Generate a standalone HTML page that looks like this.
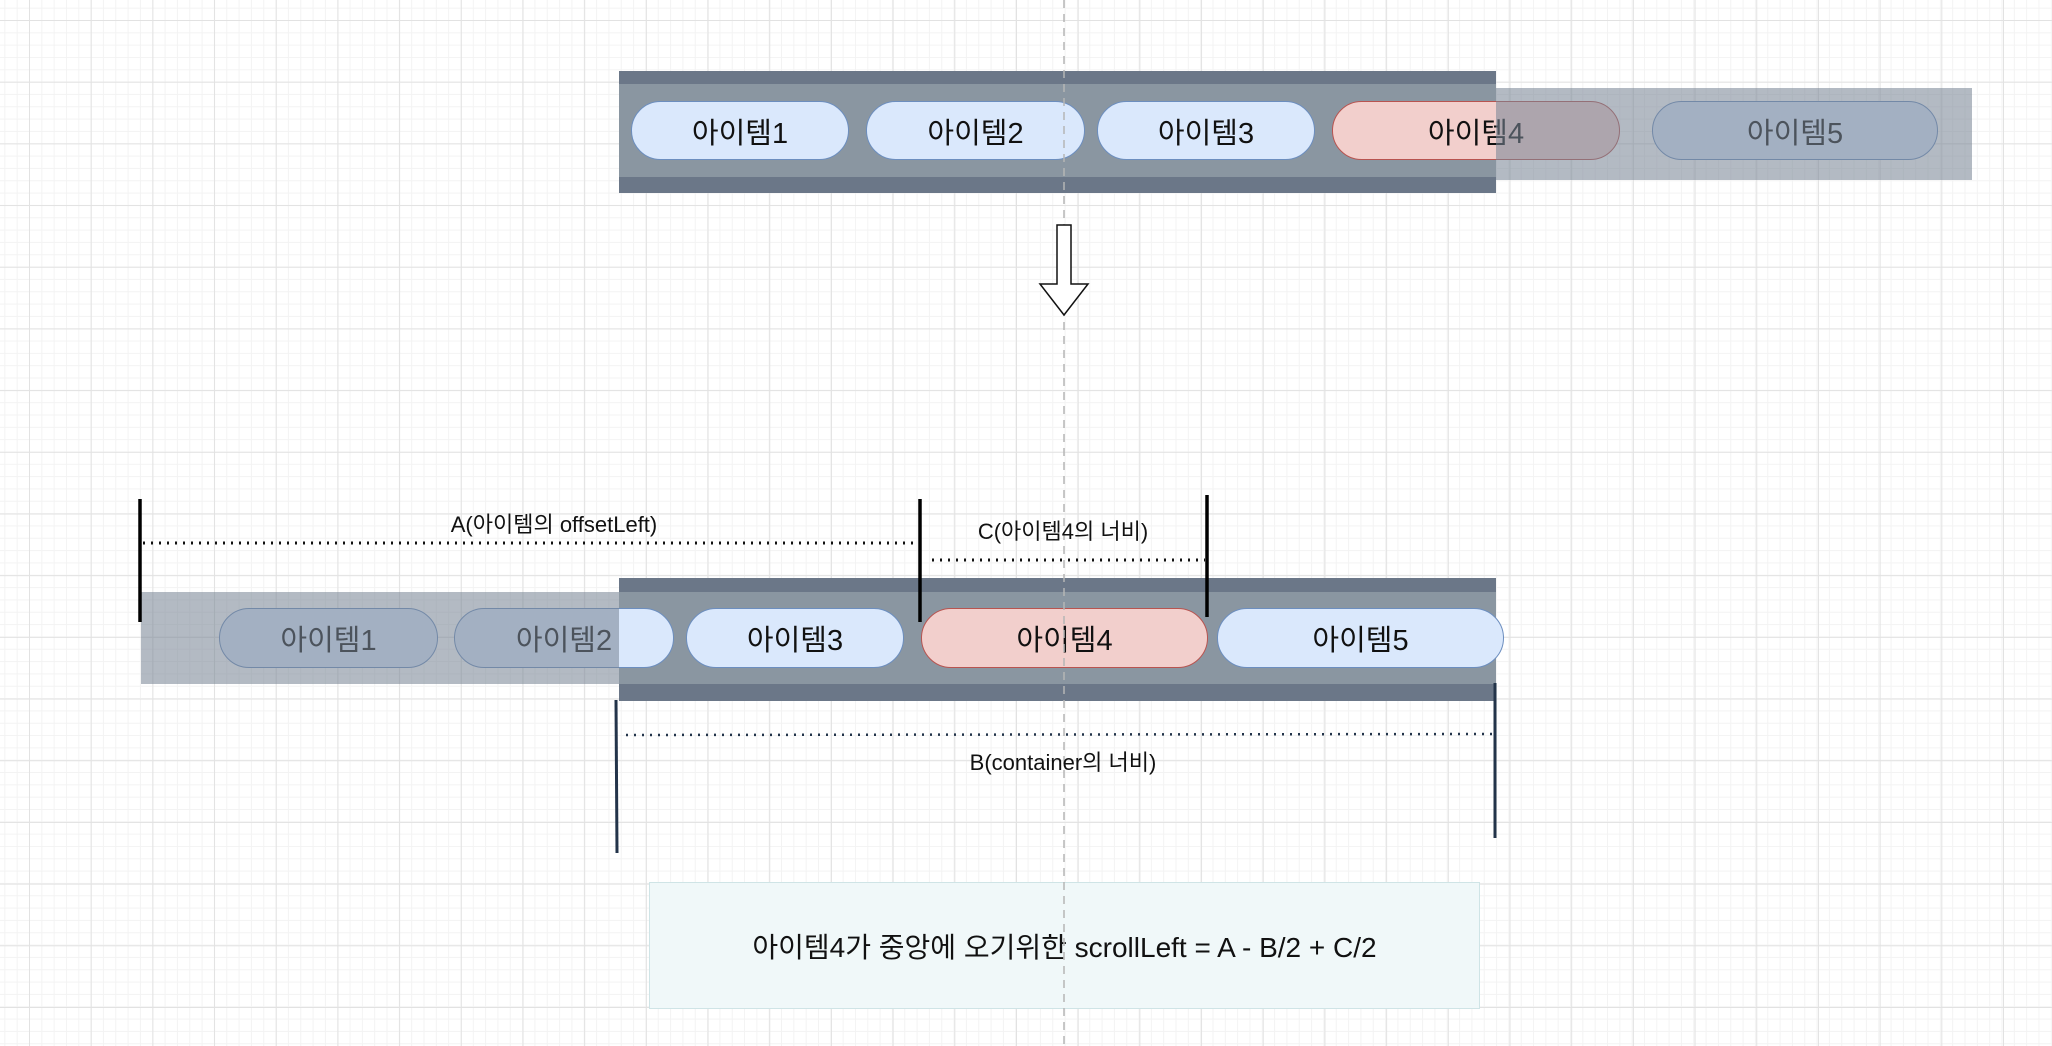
<!DOCTYPE html>
<html><head><meta charset="utf-8"><style>
html,body{margin:0;padding:0}
body{width:2052px;height:1046px;position:relative;overflow:hidden;background:#fff;
background-image:
linear-gradient(#e2e2e2 1px,transparent 1px),linear-gradient(90deg,#e2e2e2 1px,transparent 1px),
linear-gradient(#f3f3f3 1px,transparent 1px),linear-gradient(90deg,#f3f3f3 1px,transparent 1px);
background-size:61.7px 61.7px,61.7px 61.7px,12.34px 12.34px,12.34px 12.34px;
background-position:29px 20px,29px 20px,29px 20px,29px 20px;
font-family:"Liberation Sans","Noto Sans CJK KR",sans-serif}
.a{position:absolute;box-sizing:border-box}
.c{background:#6b7788}
.m{background:#8a96a1}
.it{border:1.5px solid #6c8ebf;background:#dae8fc;border-radius:30px;display:flex;align-items:center;justify-content:center;font-size:29px;color:#111}
.r{border-color:#b85450;background:#f2cfcc}
.ov{background:rgba(121,134,150,0.57)}
.t{position:absolute;font-size:22px;color:#111;transform:translateX(-50%);white-space:nowrap}
</style></head><body>
<!-- top container -->
<div class="a c" style="left:619px;top:71px;width:877px;height:122px"></div>
<div class="a m" style="left:619px;top:84px;width:877px;height:93px"></div>
<div class="a it" style="left:631px;top:101px;width:218px;height:59px">아이템1</div>
<div class="a it" style="left:866px;top:101px;width:219px;height:59px">아이템2</div>
<div class="a it" style="left:1097px;top:101px;width:218px;height:59px">아이템3</div>
<div class="a it r" style="left:1332px;top:101px;width:288px;height:59px">아이템4</div>
<div class="a it" style="left:1652px;top:101px;width:286px;height:59px">아이템5</div>
<div class="a ov" style="left:1496px;top:88px;width:476px;height:92px"></div>

<!-- bottom container -->
<div class="a c" style="left:619px;top:578px;width:877px;height:123px"></div>
<div class="a m" style="left:619px;top:592px;width:877px;height:92px"></div>
<div class="a it" style="left:219px;top:608px;width:219px;height:60px">아이템1</div>
<div class="a it" style="left:454px;top:608px;width:220px;height:60px">아이템2</div>
<div class="a it" style="left:686px;top:608px;width:218px;height:60px">아이템3</div>
<div class="a it r" style="left:921px;top:608px;width:287px;height:60px">아이템4</div>
<div class="a it" style="left:1217px;top:608px;width:287px;height:60px">아이템5</div>
<div class="a ov" style="left:141px;top:592px;width:478px;height:92px"></div>

<!-- formula box -->
<div class="a" style="left:649px;top:882px;width:831px;height:127px;background:#f0f8f9;border:1px solid #cfe4e6;display:flex;align-items:center;justify-content:center;font-size:28px;color:#111">아이템4가 중앙에 오기위한 scrollLeft = A - B/2 + C/2</div>

<svg class="a" style="left:0;top:0" width="2052" height="1046">
<line x1="1064" y1="0" x2="1064" y2="1046" stroke="#b5b5b5" stroke-width="1.5" stroke-dasharray="8,6"/>
<polygon points="1057,225 1071,225 1071,284 1088,284 1064,315 1040,284 1057,284" fill="#fff" stroke="#111" stroke-width="1.5"/>
<g stroke="#000" stroke-width="3.5">
<line x1="140" y1="499" x2="140" y2="622"/>
<line x1="920" y1="499" x2="920" y2="622"/>
<line x1="1207" y1="495" x2="1207" y2="617"/>
</g>
<g stroke="#23344a" stroke-width="3">
<line x1="616" y1="700" x2="617" y2="853"/>
<line x1="1495" y1="683" x2="1495" y2="838"/>
</g>
<g stroke="#111" stroke-width="3" stroke-dasharray="2,6">
<line x1="143" y1="543" x2="916" y2="543"/>
<line x1="932" y1="560" x2="1205" y2="560"/>
</g>
<line x1="626" y1="735" x2="1492" y2="734" stroke="#23344a" stroke-width="2.5" stroke-dasharray="2,6"/>
</svg>
<div class="t" style="left:554px;top:507px">A(아이템의 offsetLeft)</div>
<div class="t" style="left:1063px;top:514px">C(아이템4의 너비)</div>
<div class="t" style="left:1063px;top:745px">B(container의 너비)</div>
</body></html>
